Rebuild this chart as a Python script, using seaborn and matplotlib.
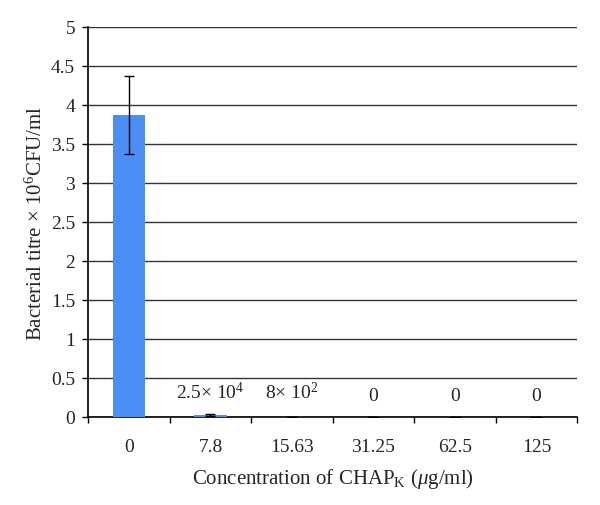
import numpy as np
import pandas as pd
import matplotlib
matplotlib.use("Agg")
import matplotlib.pyplot as plt
import seaborn as sns

# values
concentrations = ["0", "7.8", "15.63", "31.25", "62.5", "125"]
titre = [3.87, 0.025, 0.0008, 0.0, 0.0, 0.0]
titre_err = [0.50, 0.012, 0.0, 0.0, 0.0, 0.0]
bar_labels = ["", r"2.5$\times$ 10$^{4}$", r"8$\times$ 10$^{2}$", "0", "0", "0"]
label_y = [0.0, 0.245, 0.245, 0.22, 0.22, 0.22]

sns.set_style("white")
plt.rcParams["font.family"] = ["Liberation Serif", "DejaVu Serif"]
plt.rcParams["mathtext.fontset"] = "custom"
plt.rcParams["mathtext.rm"] = "Liberation Serif"
plt.rcParams["mathtext.it"] = "Liberation Serif:italic"

df = pd.DataFrame({"conc": concentrations, "titre": titre})

fig = plt.figure(figsize=(6.0, 5.06), dpi=100)
ax = fig.add_axes([0.147, 0.174, 0.815, 0.771])

sns.barplot(data=df, x="conc", y="titre", color="#4a8ef6", saturation=1,
            width=0.4, errorbar=None, linewidth=0, ax=ax, zorder=3)
ax.errorbar(x=np.arange(len(concentrations)), y=titre, yerr=titre_err,
            fmt="none", ecolor="black", elinewidth=1, capsize=3.5, capthick=1, zorder=4)

for i, (lab, ly) in enumerate(zip(bar_labels, label_y)):
    if lab:
        ax.text(i, ly, lab, ha="center", va="baseline", fontsize=14)

ax.set_ylim(0, 5)
ax.set_xlim(-0.5, len(concentrations) - 0.5)
ax.set_yticks(np.arange(0, 5.01, 0.5))
ax.set_yticklabels(["0", "0.5", "1", "1.5", "2", "2.5", "3", "3.5", "4", "4.5", "5"])
ax.yaxis.grid(True, color="#333333", linewidth=1)
ax.set_axisbelow(True)

# ticks on category boundaries, labels at centres
ax.set_xticks(np.arange(-0.5, len(concentrations), 1.0), minor=True)
ax.tick_params(axis="x", which="major", length=0, pad=15, labelsize=14)
ax.tick_params(axis="x", which="minor", length=4.5, width=1, direction="out", color="black")
ax.tick_params(axis="y", length=4.5, width=1, direction="out", color="black", labelsize=14, pad=5)
ax.xaxis.set_ticks_position("bottom")
ax.yaxis.set_ticks_position("left")

for side in ["top", "right"]:
    ax.spines[side].set_visible(False)
for side in ["left", "bottom"]:
    ax.spines[side].set_color("black")
    ax.spines[side].set_linewidth(1.2)

ax.set_xlabel(r"Concentration of CHAP$_{\mathrm{K}}$ ($\mathit{\mu}$g/ml)", fontsize=15, labelpad=8)
ax.set_ylabel(r"Bacterial titre $\times$ 10$^{6}$CFU/ml", fontsize=15, labelpad=3)

fig.savefig("out.png", dpi=100)
